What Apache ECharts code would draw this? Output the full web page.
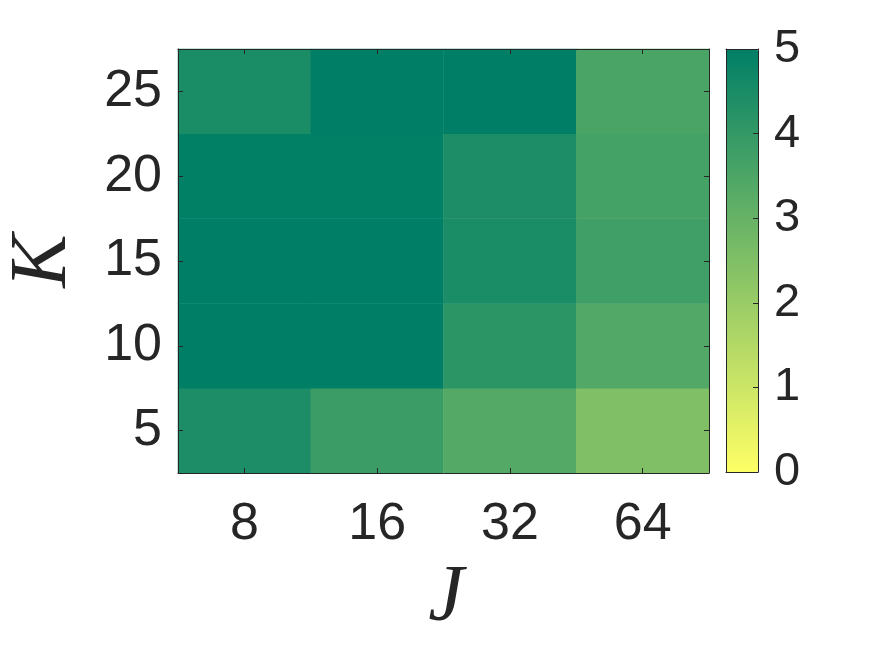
<!DOCTYPE html>
<html>
<head>
<meta charset="utf-8">
<script src="https://cdn.jsdelivr.net/npm/echarts@6/dist/echarts.min.js"></script>
<style>
html,body{margin:0;padding:0;background:#fff;}
#c{width:875px;height:656px;}
</style>
</head>
<body>
<div id="c"></div>
<script>
// Categories
var jLabels = ['8', '16', '32', '64'];
var kLabels = ['5', '10', '15', '20', '25'];
// Values per K row (ordered by J = 8, 16, 32, 64)
var rowK5  = [4.45, 3.85, 3.35, 2.50];
var rowK10 = [5.00, 5.00, 4.15, 3.40];
var rowK15 = [5.00, 5.00, 4.50, 3.75];
var rowK20 = [4.98, 4.98, 4.45, 3.65];
var rowK25 = [4.50, 5.00, 5.00, 3.55];
// Colorbar ticks
var cbarMin = 0, cbarMax = 5, cbarStep = 1;

var rows = [rowK5, rowK10, rowK15, rowK20, rowK25];
var data = [];
rows.forEach(function (r, yi) {
  r.forEach(function (v, xi) { data.push([xi, yi, v]); });
});

var ink = '#262626';
var sans = '"Liberation Sans", Arial, Helvetica, sans-serif';
var serif = '"Liberation Serif", "Times New Roman", serif';

var chart = echarts.init(document.getElementById('c'), null, {renderer: 'canvas'});

var lineStyle = {color: ink, width: 1};
chart.setOption({
  animation: false,
  backgroundColor: '#ffffff',
  grid: [
    {left: 178, top: 49, width: 531, height: 424, containLabel: false},
    {left: 726, top: 49, width: 32, height: 423, containLabel: false}
  ],
  xAxis: [
    {type: 'category', data: jLabels, gridIndex: 0, position: 'bottom', z: 10,
     axisLine: {show: true, lineStyle: lineStyle},
     axisTick: {show: true, inside: true, length: 5, alignWithLabel: true, lineStyle: lineStyle},
     axisLabel: {show: true, color: ink, fontSize: 52, fontFamily: sans, margin: 26},
     splitLine: {show: false}},
    {type: 'category', data: jLabels, gridIndex: 0, position: 'top', z: 10,
     axisLine: {show: true, lineStyle: lineStyle},
     axisTick: {show: true, inside: true, length: 5, alignWithLabel: true, lineStyle: lineStyle},
     axisLabel: {show: false}, splitLine: {show: false}},
    {type: 'value', gridIndex: 1, min: 0, max: 1, position: 'bottom', z: 10,
     axisLine: {show: true, onZero: false, lineStyle: lineStyle},
     axisTick: {show: false}, axisLabel: {show: false}, splitLine: {show: false}},
    {type: 'value', gridIndex: 1, min: 0, max: 1, position: 'top', z: 10,
     axisLine: {show: true, onZero: false, lineStyle: lineStyle},
     axisTick: {show: false}, axisLabel: {show: false}, splitLine: {show: false}}
  ],
  yAxis: [
    {type: 'category', data: kLabels, gridIndex: 0, position: 'left', z: 10,
     axisLine: {show: true, lineStyle: lineStyle},
     axisTick: {show: true, inside: true, length: 5, alignWithLabel: true, lineStyle: lineStyle},
     axisLabel: {show: true, color: ink, fontSize: 52, fontFamily: sans, margin: 16},
     splitLine: {show: false}},
    {type: 'category', data: kLabels, gridIndex: 0, position: 'right', z: 10,
     axisLine: {show: true, lineStyle: lineStyle},
     axisTick: {show: true, inside: true, length: 5, alignWithLabel: true, lineStyle: lineStyle},
     axisLabel: {show: false}, splitLine: {show: false}},
    {type: 'value', gridIndex: 1, min: cbarMin, max: cbarMax, interval: cbarStep, position: 'right', z: 10,
     axisLine: {show: true, onZero: false, lineStyle: lineStyle},
     axisTick: {show: true, inside: true, length: 5, lineStyle: lineStyle},
     axisLabel: {show: true, color: ink, fontSize: 47, fontFamily: sans, margin: 16},
     splitLine: {show: false}},
    {type: 'value', gridIndex: 1, min: cbarMin, max: cbarMax, interval: cbarStep, position: 'left', z: 10,
     axisLine: {show: true, onZero: false, lineStyle: lineStyle},
     axisTick: {show: false}, axisLabel: {show: false}, splitLine: {show: false}}
  ],
  visualMap: {
    type: 'continuous',
    min: cbarMin, max: cbarMax,
    calculable: false,
    seriesIndex: 0,
    left: 726, top: 49,
    itemWidth: 32, itemHeight: 423,
    padding: 0,
    text: null,
    inRange: {color: ['#FFFF66', '#007F66']},
    hoverLink: false
  },
  graphic: [
    {type: 'text', x: 44, y: 261, rotation: Math.PI / 2,
     style: {text: 'K', font: 'italic 80px ' + serif, fill: ink, textAlign: 'center', textVerticalAlign: 'middle'}},
    {type: 'text', x: 446, y: 599,
     style: {text: 'J', font: 'italic 80px ' + serif, fill: ink, textAlign: 'center', textVerticalAlign: 'middle'}}
  ],
  series: [{
    type: 'heatmap',
    xAxisIndex: 0, yAxisIndex: 0,
    data: data,
    emphasis: {disabled: true},
    itemStyle: {borderWidth: 0}
  }]
});
</script>
</body>
</html>
